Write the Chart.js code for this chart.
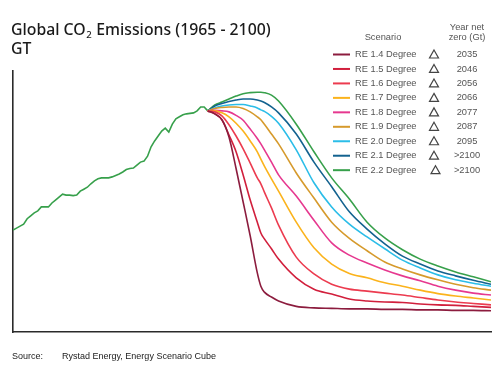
<!DOCTYPE html>
<html>
<head>
<meta charset="utf-8">
<style>
  html, body { margin: 0; padding: 0; background: #fff; }
  canvas { display: block; }
</style>
<script src="https://cdn.jsdelivr.net/npm/chart.js@4.4.1/dist/chart.umd.min.js"></script>
</head>
<body>
<canvas id="chart" width="500" height="372"></canvas>
<script>
// historical emissions (GT), one value per year 1965-2020
const histYears = Array.from({ length: 56 }, (_, i) => 1965 + i);
const histValues = [
  11.7, 12.1, 12.5, 12.9, 14.0, 14.6, 15.2, 15.6, 16.4, 16.4,
  16.4, 17.2, 17.8, 18.4, 19.0, 18.8, 18.8, 18.7, 18.8, 19.6,
  20.0, 20.4, 21.1, 21.7, 22.1, 22.3, 22.3, 22.3, 22.5, 22.8,
  23.1, 23.5, 24.0, 24.2, 24.3, 24.9, 25.5, 25.7, 26.7, 28.6,
  29.8, 30.8, 31.8, 32.4, 31.6, 33.2, 34.3, 34.7, 35.1, 35.3,
  35.4, 35.5, 35.9, 36.7, 36.7, 35.9
];

// scenario paths
const scenarioYears = [2020, 2022, 2024, 2026, 2028, 2030, 2032, 2034, 2035, 2036, 2038, 2040,
  2045, 2050, 2055, 2060, 2065, 2070, 2075, 2080, 2085, 2090, 2095, 2100];
const re14 = [35.9, 35.3, 34.1, 30.6, 24.2, 17.4, 10.5, 3.0, 0.3, -0.9, -1.9, -2.7,
  -3.8, -4.1, -4.2, -4.3, -4.3, -4.4, -4.4, -4.5, -4.5, -4.6, -4.6, -4.7];
const re15 = [35.9, 35.3, 34.1, 31.0, 27.6, 22.9, 17.8, 13.3, 11.1, 9.9, 7.9, 5.8,
  2.0, -0.3, -1.3, -2.3, -2.7, -2.9, -3.0, -3.3, -3.5, -3.6, -3.8, -4.0];
const re16 = [35.9, 35.7, 34.9, 33.1, 30.8, 28.2, 25.3, 22.3, 21.1, 19.4, 16.2, 12.7,
  6.2, 2.8, 0.7, -0.3, -0.7, -1.1, -1.5, -2.0, -2.5, -2.9, -3.2, -3.5];
const re17 = [35.9, 35.9, 35.5, 34.7, 33.4, 31.8, 29.8, 27.6, 26.1, 24.7, 22.1, 19.6,
  13.3, 8.1, 4.8, 2.9, 2.0, 1.0, 0.3, -0.5, -1.2, -1.7, -2.1, -2.5];
const re18 = [35.9, 36.0, 35.9, 35.7, 35.0, 34.0, 32.2, 30.3, 29.2, 28.0, 25.5, 22.9,
  18.6, 13.7, 9.1, 6.6, 5.0, 3.6, 2.4, 1.4, 0.3, -0.5, -1.1, -1.5];
const re19 = [35.9, 36.4, 36.6, 36.7, 36.7, 36.4, 35.7, 34.7, 34.1, 33.2, 31.2, 29.2,
  23.3, 18.2, 13.3, 10.0, 7.5, 5.2, 3.8, 2.6, 1.6, 0.7, 0.0, -0.5];
const re20 = [35.9, 36.5, 36.9, 37.1, 37.2, 37.2, 36.9, 36.5, 36.1, 35.8, 34.8, 33.4,
  28.0, 21.3, 16.4, 12.9, 10.3, 7.9, 5.6, 4.0, 2.6, 1.6, 0.9, 0.3];
const re21 = [35.9, 36.9, 37.4, 37.8, 38.1, 38.3, 38.3, 38.1, 37.9, 37.6, 36.7, 35.5,
  31.2, 25.5, 20.5, 15.4, 11.9, 8.9, 6.4, 4.8, 3.4, 2.4, 1.5, 0.7];
const re22 = [35.9, 37.1, 37.7, 38.3, 38.9, 39.4, 39.6, 39.7, 39.7, 39.6, 39.1, 37.9,
  33.2, 27.6, 22.3, 18.0, 13.3, 10.1, 7.7, 5.8, 4.4, 3.2, 2.2, 1.2];

const scenarioNames = ["RE 1.4 Degree", "RE 1.5 Degree", "RE 1.6 Degree", "RE 1.7 Degree",
  "RE 1.8 Degree", "RE 1.9 Degree", "RE 2.0 Degree", "RE 2.1 Degree", "RE 2.2 Degree"];
const netZeroYears = ["2035", "2046", "2056", "2066", "2077", "2087", "2095", ">2100", ">2100"];
const scenarioValues = [re14, re15, re16, re17, re18, re19, re20, re21, re22];

const scenarioColors = ["#8c1c3e", "#d11f3c", "#ec3b4f", "#fbb31c", "#e6388f",
  "#d69a2c", "#2bbde8", "#13628f", "#37a04b"];

const toPoints = (xs, ys) => xs.map((x, i) => ({ x, y: ys[i] }));

const datasets = scenarioNames.map((name, i) => ({
  label: name,
  data: toPoints(scenarioYears, scenarioValues[i]),
  borderColor: scenarioColors[i],
  borderWidth: 1.6,
  pointRadius: 0,
  cubicInterpolationMode: "monotone",
  fill: false,
}));
datasets.push({
  label: "Historical",
  data: toPoints(histYears, histValues),
  borderColor: scenarioColors[8],
  borderWidth: 1.6,
  pointRadius: 0,
  tension: 0,
  fill: false,
});

const textPlugin = {
  id: "textBits",
  afterDraw(chart) {
    const { ctx } = chart;
    ctx.save();

    // title
    ctx.fillStyle = "#1a1a1a";
    ctx.textAlign = "left";
    ctx.textBaseline = "alphabetic";
    const big = '500 15.8px "Noto Sans", sans-serif';
    const small = '500 9.5px "Noto Sans", sans-serif';
    let x = 11;
    ctx.font = big;
    ctx.fillText("Global CO", x, 35);
    x += ctx.measureText("Global CO").width;
    ctx.font = small;
    ctx.fillText("2", x + 0.5, 38);
    x += ctx.measureText("2").width + 1;
    ctx.font = big;
    ctx.fillText(" Emissions (1965 - 2100)", x, 35);
    ctx.fillText("GT", 11, 53.5);

    // legend headers
    ctx.fillStyle = "#555";
    ctx.font = '9.3px "Liberation Sans", Arial, sans-serif';
    ctx.textAlign = "center";
    ctx.fillText("Scenario", 383, 40);
    ctx.fillText("Year net", 467, 29.5);
    ctx.fillText("zero (Gt)", 467, 40);

    // legend rows
    ctx.textBaseline = "middle";
    scenarioNames.forEach((name, i) => {
      const y = 54.5 + i * 14.46;
      ctx.strokeStyle = scenarioColors[i];
      ctx.lineWidth = 2;
      ctx.beginPath();
      ctx.moveTo(333, y);
      ctx.lineTo(350, y);
      ctx.stroke();

      ctx.fillStyle = "#555";
      ctx.textAlign = "left";
      ctx.fillText(name, 355, y);

      const tx = i === 8 ? 435.5 : 434;
      ctx.strokeStyle = "#444";
      ctx.lineWidth = 1.2;
      ctx.beginPath();
      ctx.moveTo(tx, y - 4.5);
      ctx.lineTo(tx + 4.5, y + 3.5);
      ctx.lineTo(tx - 4.5, y + 3.5);
      ctx.closePath();
      ctx.stroke();

      ctx.textAlign = "center";
      ctx.fillText(netZeroYears[i], 467, y);
    });

    // source
    ctx.textAlign = "left";
    ctx.textBaseline = "alphabetic";
    ctx.fillStyle = "#222";
    ctx.font = '9px "Liberation Sans", Arial, sans-serif';
    ctx.fillText("Source:", 12, 358.5);
    ctx.fillText("Rystad Energy, Energy Scenario Cube", 62, 358.5);

    ctx.restore();
  },
};

new Chart(document.getElementById("chart"), {
  type: "line",
  data: { datasets },
  options: {
    responsive: false,
    animation: false,
    layout: { padding: { left: 13, right: 9, top: 71, bottom: 40 } },
    plugins: {
      legend: { display: false },
      tooltip: { enabled: false },
      title: { display: false },
    },
    scales: {
      x: {
        type: "linear",
        min: 1965,
        max: 2100,
        ticks: { display: false },
        grid: { display: false, drawTicks: false },
        border: { display: true, color: "#2a2a2a", width: 1.6 },
        afterFit(scale) { scale.height = 0; },
      },
      y: {
        min: -9,
        max: 44,
        ticks: { display: false },
        grid: { display: false, drawTicks: false },
        border: { display: true, color: "#2a2a2a", width: 1.6 },
        afterFit(scale) { scale.width = 0; },
      },
    },
  },
  plugins: [textPlugin],
});
</script>
</body>
</html>
